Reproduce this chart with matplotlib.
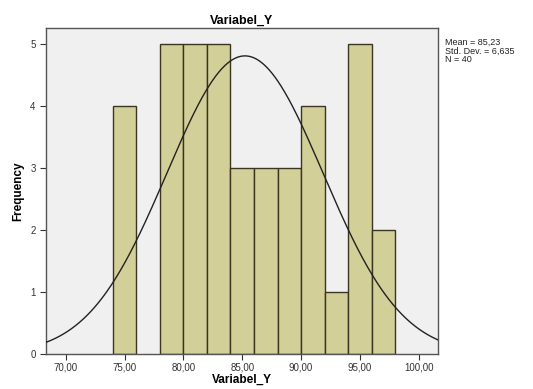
import numpy as np
import matplotlib.pyplot as plt

plt.rcParams['font.family'] = ['Liberation Sans', 'DejaVu Sans']

# histogram bins (width 2) and counts
bin_edges = [74, 76, 78, 80, 82, 84, 86, 88, 90, 92, 94, 96, 98]
counts = [4, 0, 5, 5, 5, 3, 3, 3, 4, 1, 5, 2]

mean = 85.23
sd = 6.635
n = 40

xticks = [70, 75, 80, 85, 90, 95, 100]
xtick_labels = ['70,00', '75,00', '80,00', '85,00', '90,00', '95,00', '100,00']
yticks = [0, 1, 2, 3, 4, 5]

fig = plt.figure(figsize=(5.33, 3.89), dpi=100)
ax = fig.add_axes([0.0863, 0.090, 0.7355, 0.838])
ax.set_facecolor('#f0f0f0')

lefts = bin_edges[:-1]
widths = np.diff(bin_edges)
for l, w, c in zip(lefts, widths, counts):
    if c > 0:
        ax.bar(l, c, width=w, align='edge', color='#d3cf98',
               edgecolor='#3a3520', linewidth=1.0, zorder=2)

xlim = (68.33, 101.63)
xs = np.linspace(xlim[0], xlim[1], 400)
bw = bin_edges[1] - bin_edges[0]
ys = n * bw / (sd * np.sqrt(2 * np.pi)) * np.exp(-0.5 * ((xs - mean) / sd) ** 2)
ax.plot(xs, ys, color='#222222', linewidth=1.0, zorder=3)

ax.set_xlim(*xlim)
ax.set_ylim(0, 5.26)
ax.set_xticks(xticks)
ax.set_xticklabels(xtick_labels)
ax.set_yticks(yticks)
ax.tick_params(labelsize=7, colors='#333333', length=4, width=0.8, direction='out')
ax.tick_params(axis='x', pad=2)
for s in ax.spines.values():
    s.set_color('#555555')
    s.set_linewidth(1.0)

ax.set_title('Variabel_Y', fontsize=9, fontweight='bold', pad=3)
ax.set_xlabel('Variabel_Y', fontsize=8.5, fontweight='bold', labelpad=1)
ax.set_ylabel('Frequency', fontsize=8.5, fontweight='bold', labelpad=4)

fig.text(0.835, 0.902, 'Mean = 85,23\nStd. Dev. = 6,635\nN = 40',
         fontsize=6.5, va='top', ha='left', linespacing=0.95, color='#222222')

fig.savefig('out.png', dpi=100)
